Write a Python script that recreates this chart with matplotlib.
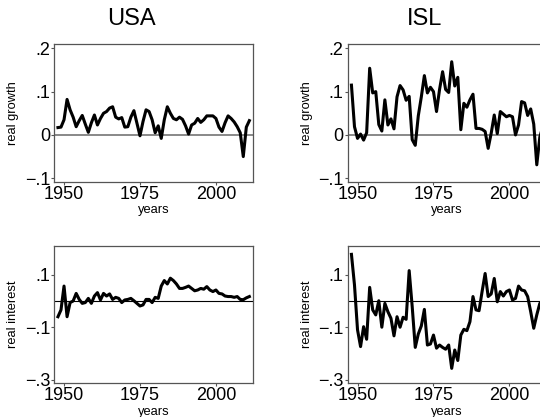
import numpy as np
import matplotlib
matplotlib.use("Agg")
import matplotlib.pyplot as plt

plt.rcParams['font.family'] = ['Liberation Sans', 'DejaVu Sans']

years = list(range(1948, 2012))

usa_growth = [0.017, 0.018, 0.035, 0.082, 0.058, 0.041, 0.019, 0.033, 0.045, 0.025,
              0.006, 0.028, 0.046, 0.023, 0.038, 0.050, 0.054, 0.062, 0.065, 0.041,
              0.037, 0.040, 0.018, 0.019, 0.041, 0.056, 0.027, -0.002, 0.031, 0.058,
              0.054, 0.035, 0.005, 0.021, -0.008, 0.035, 0.065, 0.050, 0.038, 0.035,
              0.041, 0.036, 0.021, 0.002, 0.023, 0.027, 0.038, 0.029, 0.035, 0.044,
              0.044, 0.044, 0.038, 0.018, 0.008, 0.028, 0.044, 0.038, 0.030, 0.019,
              0.005, -0.050, 0.018, 0.033]

isl_growth = [0.115, 0.019, -0.008, 0.002, -0.012, 0.005, 0.154, 0.097, 0.100, 0.024,
              0.009, 0.081, 0.023, 0.037, 0.014, 0.088, 0.114, 0.104, 0.080, 0.089,
              -0.011, -0.024, 0.044, 0.088, 0.137, 0.097, 0.110, 0.100, 0.054, 0.105,
              0.146, 0.105, 0.098, 0.169, 0.113, 0.133, 0.012, 0.073, 0.064, 0.081,
              0.094, 0.015, 0.015, 0.013, 0.008, -0.031, 0.004, 0.046, 0.003, 0.054,
              0.048, 0.042, 0.045, 0.042, 0.000, 0.023, 0.077, 0.074, 0.045, 0.060,
              0.025, -0.069, -0.005, 0.020]

usa_interest = [-0.060, -0.034, 0.057, -0.060, -0.006, 0.000, 0.029, 0.006, -0.009, -0.006,
                0.010, -0.009, 0.019, 0.032, 0.004, 0.029, 0.019, 0.027, 0.006, 0.014,
                0.010, -0.006, 0.004, 0.006, 0.010, 0.001, -0.009, -0.019, -0.015, 0.006,
                0.006, -0.006, 0.014, 0.010, 0.057, 0.078, 0.065, 0.087, 0.078, 0.065,
                0.048, 0.048, 0.052, 0.057, 0.048, 0.039, 0.042, 0.048, 0.045, 0.055,
                0.042, 0.036, 0.042, 0.029, 0.027, 0.019, 0.017, 0.017, 0.014, 0.017,
                0.006, 0.005, 0.012, 0.017]

isl_interest = [0.178, 0.061, -0.110, -0.174, -0.098, -0.146, 0.052, -0.034, -0.053, 0.001,
                -0.100, -0.009, -0.041, -0.066, -0.133, -0.060, -0.100, -0.062, -0.070, 0.116,
                -0.022, -0.177, -0.126, -0.095, -0.032, -0.168, -0.164, -0.130, -0.180, -0.168,
                -0.177, -0.184, -0.168, -0.257, -0.187, -0.227, -0.130, -0.108, -0.113, -0.079,
                0.017, -0.034, -0.037, 0.036, 0.105, 0.017, 0.027, 0.086, -0.003, 0.036,
                0.019, 0.036, 0.042, 0.004, 0.010, 0.057, 0.042, 0.039, 0.017, -0.041,
                -0.104, -0.053, -0.009, 0.000]

titles = ["USA", "ISL"]
x_ticks = [1950, 1975, 2000]
growth_ticks = [0.2, 0.1, 0.0, -0.1]
growth_labels = [".2", ".1", "0", "\u2212.1"]
interest_ticks = [0.1, -0.1, -0.3]
interest_labels = [".1", "\u2212.1", "\u2212.3"]

W, H = 540, 417
fig = plt.figure(figsize=(W / 100, H / 100), dpi=100)


def ax_at(x0, y0, x1, y1):
    return fig.add_axes([x0 / W, 1 - y1 / H, (x1 - x0) / W, (y1 - y0) / H])


spine_col = "#555555"


def style(ax, yticks, ylabels, ylim, ylabel, zero_col, zero_lw):
    ax.set_xlim(1946.7, 2012.2)
    ax.set_ylim(*ylim)
    ax.set_xticks(x_ticks)
    ax.set_xticklabels([str(t) for t in x_ticks])
    ax.set_yticks(yticks)
    ax.set_yticklabels(ylabels)
    ax.tick_params(axis="both", direction="out", length=2.2, width=0.8,
                   color=spine_col, labelsize=13, pad=0.6, labelcolor="black")
    for s in ax.spines.values():
        s.set_color(spine_col)
        s.set_linewidth(0.9)
    ax.axhline(0, color=zero_col, lw=zero_lw, zorder=1)
    ax.set_xlabel("years", fontsize=9.3, labelpad=1.2)
    ax.text(-0.2045, 0.5, ylabel, transform=ax.transAxes, rotation=90,
            ha="center", va="center", fontsize=9.3)


lefts = [(54, 253), (347.5, 546.5)]
growth_data = [usa_growth, isl_growth]
interest_data = [usa_interest, isl_interest]

for i, (x0, x1) in enumerate(lefts):
    ax = ax_at(x0, 44.2, x1, 181.7)
    style(ax, growth_ticks, growth_labels, (-0.108, 0.2095), "real growth",
          "#7f7f7f", 1.3)
    ax.plot(years, growth_data[i], color="black", lw=2.2, zorder=3,
            solid_joinstyle="round")

    ax2 = ax_at(x0, 245.7, x1, 383.3)
    style(ax2, interest_ticks, interest_labels, (-0.314, 0.211), "real interest",
          "black", 0.8)
    ax2.plot(years, interest_data[i], color="black", lw=2.2, zorder=3,
             solid_joinstyle="round")

    cx = [131.5, 425][i]
    fig.text(cx / W, 1 - 25 / H, titles[i], ha="center", va="baseline", fontsize=17)

fig.savefig("out.png", dpi=100)
